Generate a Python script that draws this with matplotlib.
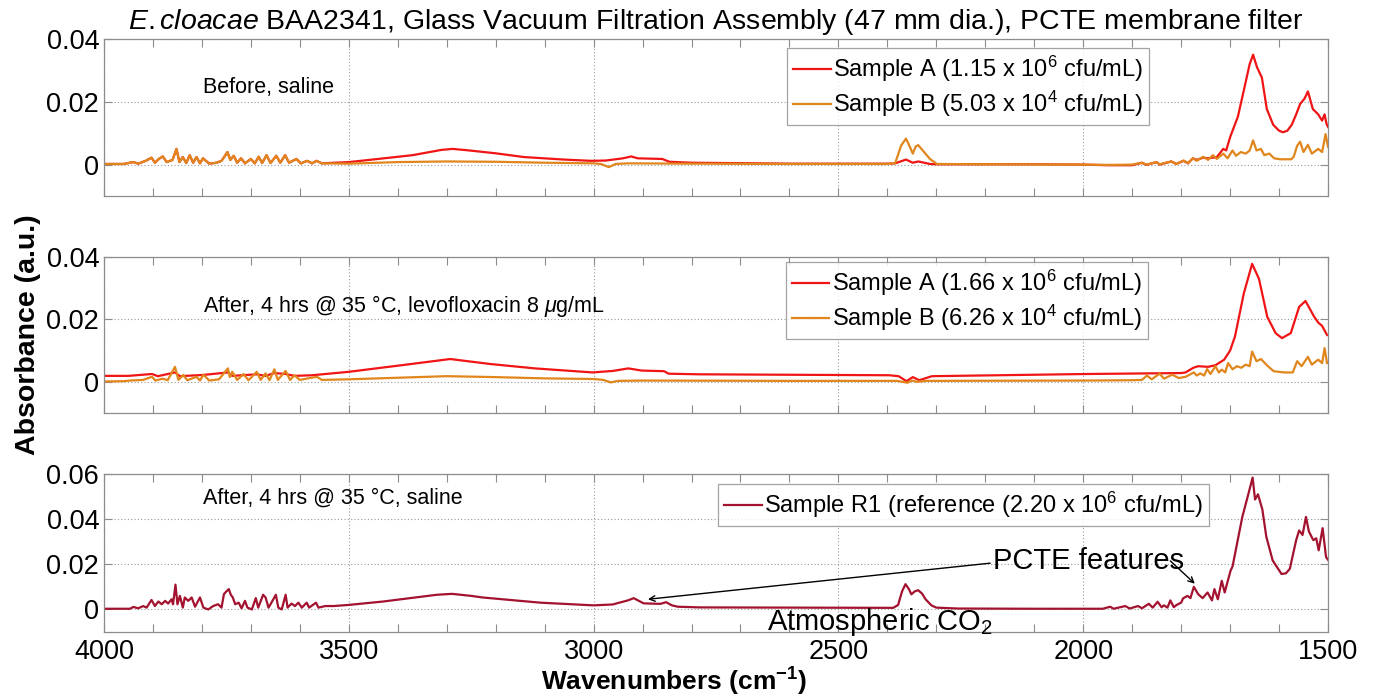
import matplotlib
matplotlib.use("Agg")
import matplotlib.pyplot as plt
from matplotlib.ticker import MultipleLocator, FuncFormatter

plt.rcParams['font.family'] = ['Liberation Sans', 'DejaVu Sans']
plt.rcParams['mathtext.fontset'] = 'custom'
plt.rcParams['mathtext.rm'] = 'Liberation Sans'
plt.rcParams['mathtext.it'] = 'Liberation Sans:italic'
plt.rcParams['mathtext.bf'] = 'Liberation Sans:bold'

# ---------------- data (wavenumber, absorbance) ----------------
noise1_wn = [4000, 3960, 3940, 3930, 3915, 3903, 3896, 3888, 3880, 3872, 3860, 3852, 3846, 3839, 3832,
             3825, 3818, 3811, 3804, 3798, 3785, 3770, 3760, 3752, 3748, 3742, 3735, 3728, 3720, 3712,
             3700, 3692, 3684, 3677, 3668, 3660, 3648, 3640, 3630, 3622, 3607, 3598, 3585, 3575, 3566, 3555]
noise1_ab = [0.0002, 0.0002, 0.0008, 0.0003, 0.0012, 0.0022, 0.0006, 0.0018, 0.0026, 0.0008, 0.0015,
             0.0050, 0.0008, 0.0024, 0.0005, 0.0030, 0.0006, 0.0024, 0.0004, 0.0020, 0.0003, 0.0006,
             0.0012, 0.0030, 0.0040, 0.0015, 0.0028, 0.0006, 0.0020, 0.0004, 0.0018, 0.0004, 0.0025,
             0.0005, 0.0030, 0.0005, 0.0028, 0.0006, 0.0030, 0.0006, 0.0018, 0.0004, 0.0012, 0.0004,
             0.0012, 0.0004]

p1_red_wn = noise1_wn + [3500, 3440, 3370, 3310, 3288, 3260, 3200, 3142, 3060, 3005, 2975, 2940, 2923,
             2910, 2885, 2860, 2845, 2800, 2600, 2400, 2384, 2362, 2348, 2337, 2313, 2299, 2100, 2000,
             1950, 1900, 1880, 1871, 1850, 1844, 1820, 1810, 1795, 1786, 1776, 1768, 1755, 1745, 1727,
             1714, 1708, 1700, 1684, 1670, 1660, 1653, 1645, 1635, 1625, 1612, 1600, 1592, 1583, 1574,
             1565, 1557, 1548, 1541, 1531, 1520, 1512, 1507, 1503, 1500]
p1_red_ab = noise1_ab + [0.0008, 0.0018, 0.0030, 0.0047, 0.0050, 0.0046, 0.0036, 0.0024, 0.0016,
             0.0012, 0.0013, 0.0020, 0.0026, 0.0020, 0.0019, 0.0018, 0.0009, 0.0006, 0.0003, 0.0003,
             0.0004, 0.0016, 0.0006, 0.0010, 0.0002, 0.0001, 0.0001, 0.0000, -0.0002, -0.0002, 0.0006,
             -0.0001, 0.0008, 0.0000, 0.0010, 0.0002, 0.0012, 0.0004, 0.0020, 0.0015, 0.0022, 0.0020,
             0.0024, 0.0050, 0.0045, 0.0087, 0.0153, 0.0250, 0.0320, 0.0350, 0.0310, 0.0277, 0.0177,
             0.0127, 0.0108, 0.0103, 0.0108, 0.0127, 0.0160, 0.0193, 0.0210, 0.0233, 0.0177, 0.0160,
             0.0140, 0.0160, 0.0130, 0.0120]

p1_orange_wn = noise1_wn + [3500, 3400, 3300, 3200, 3100, 3000, 2985, 2969, 2955, 2930, 2800, 2600,
             2400, 2384, 2372, 2362, 2355, 2348, 2342, 2337, 2325, 2313, 2299, 2200, 2000, 1950, 1900,
             1880, 1871, 1850, 1844, 1820, 1810, 1795, 1786, 1776, 1768, 1755, 1745, 1735, 1727, 1714,
             1705, 1695, 1688, 1678, 1668, 1660, 1653, 1646, 1637, 1630, 1620, 1610, 1598, 1575, 1570,
             1563, 1557, 1550, 1541, 1533, 1520, 1512, 1505, 1500]
p1_orange_ab = noise1_ab + [0.0003, 0.0008, 0.0010, 0.0009, 0.0006, 0.0004, 0.0002, -0.0008, 0.0002,
             0.0004, 0.0003, 0.0002, 0.0002, 0.0005, 0.0060, 0.0083, 0.0060, 0.0035, 0.0058, 0.0062,
             0.0040, 0.0018, 0.0002, 0.0001, 0.0000, -0.0001, 0.0000, 0.0006, 0.0000, 0.0008, 0.0001,
             0.0010, 0.0002, 0.0013, 0.0005, 0.0020, 0.0012, 0.0025, 0.0015, 0.0030, 0.0018, 0.0035,
             0.0020, 0.0045, 0.0028, 0.0040, 0.0035, 0.0045, 0.0077, 0.0045, 0.0050, 0.0030, 0.0035,
             0.0020, 0.0017, 0.0017, 0.0025, 0.0060, 0.0073, 0.0040, 0.0063, 0.0035, 0.0050, 0.0040,
             0.0097, 0.0057]

p2_red_wn = [4000, 3950, 3902, 3890, 3855, 3845, 3797, 3747, 3738, 3688, 3670, 3652, 3629, 3611, 3575,
             3500, 3393, 3293, 3211, 3120, 3002, 2960, 2929, 2902, 2856, 2847, 2785, 2396, 2377, 2361,
             2348, 2335, 2309, 1993, 1800, 1791, 1775, 1765, 1745, 1730, 1712, 1700, 1690, 1672, 1655,
             1641, 1624, 1607, 1594, 1576, 1559, 1546, 1528, 1520, 1512, 1502]
p2_red_ab = [0.0019, 0.0019, 0.0025, 0.0018, 0.0030, 0.0018, 0.0022, 0.0030, 0.0019, 0.0024, 0.0019,
             0.0028, 0.0025, 0.0019, 0.0021, 0.0032, 0.0053, 0.0073, 0.0057, 0.0043, 0.0030, 0.0035,
             0.0043, 0.0036, 0.0034, 0.0026, 0.0024, 0.0021, 0.0018, 0.0002, 0.0015, 0.0005, 0.0018,
             0.0025, 0.0028, 0.0030, 0.0045, 0.0050, 0.0048, 0.0053, 0.0071, 0.0100, 0.0145, 0.0283,
             0.0378, 0.0330, 0.0208, 0.0156, 0.0140, 0.0156, 0.0240, 0.0259, 0.0208, 0.0190, 0.0179,
             0.0150]

p2_orange_wn = [4000, 3960, 3947, 3920, 3902, 3895, 3880, 3870, 3855, 3848, 3838, 3830, 3811, 3804,
             3797, 3785, 3765, 3747, 3743, 3738, 3728, 3715, 3705, 3688, 3680, 3670, 3662, 3652, 3645,
             3629, 3620, 3611, 3600, 3580, 3565, 3555, 3500, 3400, 3300, 3200, 3100, 3000, 2980, 2965,
             2950, 2900, 2600, 2380, 2359, 2350, 2340, 2320, 2000, 1900, 1880, 1870, 1860, 1844, 1835,
             1818, 1805, 1791, 1774, 1768, 1761, 1753, 1747, 1740, 1730, 1723, 1717, 1710, 1704, 1695,
             1686, 1677, 1668, 1660, 1655, 1646, 1637, 1624, 1611, 1590, 1572, 1563, 1554, 1541, 1533,
             1520, 1512, 1507, 1502]
p2_orange_ab = [0.0001, 0.0002, 0.0004, 0.0006, 0.0016, 0.0004, 0.0010, 0.0005, 0.0048, 0.0006,
             0.0022, 0.0005, 0.0016, 0.0004, 0.0023, 0.0004, 0.0008, 0.0043, 0.0015, 0.0032, 0.0006,
             0.0025, 0.0005, 0.0032, 0.0006, 0.0027, 0.0005, 0.0040, 0.0006, 0.0035, 0.0006, 0.0021,
             0.0006, 0.0012, 0.0016, 0.0006, 0.0008, 0.0013, 0.0018, 0.0015, 0.0011, 0.0009, 0.0006,
             -0.0002, 0.0003, 0.0004, 0.0003, 0.0003, -0.0003, 0.0004, 0.0000, 0.0003, 0.0004, 0.0005,
             0.0006, 0.0020, 0.0008, 0.0026, 0.0010, 0.0023, 0.0012, 0.0016, 0.0030, 0.0020, 0.0027,
             0.0020, 0.0041, 0.0025, 0.0050, 0.0030, 0.0039, 0.0030, 0.0060, 0.0040, 0.0050, 0.0045,
             0.0055, 0.0050, 0.0097, 0.0066, 0.0073, 0.0052, 0.0034, 0.0030, 0.0030, 0.0066, 0.0050,
             0.0080, 0.0055, 0.0071, 0.0060, 0.0108, 0.0060]

p3_wn = [4000, 3947, 3940, 3930, 3920, 3913, 3903, 3896, 3889, 3882, 3875, 3869, 3862, 3859, 3854,
         3850, 3845, 3839, 3835, 3828, 3821, 3814, 3804, 3797, 3787, 3777, 3767, 3760, 3755, 3750, 3745,
         3741, 3737, 3732, 3725, 3719, 3712, 3707, 3698, 3690, 3685, 3675, 3670, 3664, 3658, 3649, 3644,
         3637, 3629, 3625, 3617, 3610, 3603, 3596, 3586, 3581, 3567, 3562, 3548, 3531, 3500, 3430, 3383,
         3320, 3289, 3250, 3227, 3109, 3000, 2961, 2930, 2918, 2898, 2870, 2863, 2852, 2840, 2828, 2783,
         2600, 2388, 2378, 2370, 2363, 2356, 2351, 2344, 2337, 2329, 2322, 2310, 2300, 2256, 2100, 1993,
         1960, 1945, 1938, 1914, 1905, 1888, 1880, 1866, 1858, 1848, 1840, 1835, 1828, 1822, 1815, 1809,
         1800, 1796, 1787, 1781, 1774, 1765, 1756, 1746, 1737, 1732, 1725, 1717, 1711, 1699, 1695, 1686,
         1675, 1664, 1654, 1649, 1643, 1634, 1626, 1613, 1595, 1586, 1578, 1565, 1559, 1552, 1545, 1539,
         1530, 1524, 1519, 1511, 1504, 1500]
p3_ab = [0.0003, 0.0003, 0.0011, 0.0005, 0.0015, 0.0008, 0.0042, 0.0015, 0.0035, 0.0023, 0.0038,
         0.0026, 0.0045, 0.0023, 0.0110, 0.0023, 0.0060, 0.0008, 0.0053, 0.0038, 0.0053, 0.0012, 0.0053,
         0.0008, 0.0000, 0.0015, 0.0023, 0.0008, 0.0068, 0.0080, 0.0090, 0.0065, 0.0053, 0.0023, 0.0030,
         0.0005, 0.0038, 0.0008, 0.0000, 0.0050, 0.0008, 0.0065, 0.0053, 0.0008, 0.0030, 0.0065, 0.0008,
         0.0000, 0.0065, 0.0008, 0.0026, 0.0015, 0.0030, 0.0008, 0.0030, 0.0008, 0.0030, 0.0008, 0.0015,
         0.0015, 0.0020, 0.0035, 0.0048, 0.0065, 0.0069, 0.0060, 0.0053, 0.0030, 0.0018, 0.0022, 0.0040,
         0.0050, 0.0027, 0.0025, 0.0025, 0.0032, 0.0018, 0.0012, 0.0009, 0.0008, 0.0007, 0.0020, 0.0080,
         0.0112, 0.0090, 0.0067, 0.0080, 0.0085, 0.0070, 0.0045, 0.0018, 0.0008, 0.0004, 0.0003, 0.0003,
         0.0003, 0.0012, 0.0003, 0.0015, 0.0004, 0.0015, 0.0005, 0.0025, 0.0008, 0.0034, 0.0010, 0.0018,
         0.0008, 0.0040, 0.0010, 0.0020, 0.0030, 0.0049, 0.0060, 0.0050, 0.0100, 0.0067, 0.0050, 0.0075,
         0.0040, 0.0090, 0.0045, 0.0127, 0.0075, 0.0172, 0.0190, 0.0290, 0.0410, 0.0500, 0.0584, 0.0487,
         0.0510, 0.0442, 0.0322, 0.0217, 0.0157, 0.0160, 0.0180, 0.0307, 0.0350, 0.0330, 0.0410, 0.0345,
         0.0307, 0.0315, 0.0262, 0.0360, 0.0232, 0.0220]

labels_p1 = ['Sample A (1.15 x 10$^6$ cfu/mL)', 'Sample B (5.03 x 10$^4$ cfu/mL)']
labels_p2 = ['Sample A (1.66 x 10$^6$ cfu/mL)', 'Sample B (6.26 x 10$^4$ cfu/mL)']
labels_p3 = ['Sample R1 (reference (2.20 x 10$^6$ cfu/mL)']
panel_notes = ['Before, saline', r'After, 4 hrs @ 35 °C, levofloxacin 8 $\mu$g/mL',
               'After, 4 hrs @ 35 °C, saline']

RED = '#f01414'
ORANGE = '#e0861c'
DARKRED = '#a3122e'
SPINE = '#8c8c8c'

fig = plt.figure(figsize=(13.74, 7.0), dpi=100)
W, H = 1374.0, 700.0
left, right = 104 / W, 1328 / W
boxes = [(39, 196), (257, 413), (474, 632)]
axes = []
for (t, b) in boxes:
    ax = fig.add_axes([left, 1 - b / H, right - left, (b - t) / H])
    axes.append(ax)

fmt = FuncFormatter(lambda v, p: '%g' % round(v, 4))
for i, ax in enumerate(axes):
    ax.set_xlim(4000, 1500)
    ax.xaxis.set_major_locator(MultipleLocator(500))
    ax.xaxis.set_minor_locator(MultipleLocator(100))
    ax.yaxis.set_major_locator(MultipleLocator(0.02))
    ax.yaxis.set_major_formatter(fmt)
    ax.grid(True, which='major', linestyle=(0, (1, 2)), color='#9a9a9a', linewidth=0.8)
    ax.tick_params(which='both', direction='in', top=True, right=True, length=6,
                   color=SPINE, labelsize=19.5, width=0.8)
    for s in ax.spines.values():
        s.set_color(SPINE)
        s.set_linewidth(0.9)
    if i < 2:
        ax.tick_params(labelbottom=False)
        ax.set_ylim(-0.01, 0.04)
    else:
        ax.set_ylim(-0.01, 0.06)
        ax.tick_params(axis='x', pad=5)

ax1, ax2, ax3 = axes
ax1.plot(p1_red_wn, p1_red_ab, color=RED, lw=1.6, label=labels_p1[0])
ax1.plot(p1_orange_wn, p1_orange_ab, color=ORANGE, lw=1.6, label=labels_p1[1])
ax2.plot(p2_red_wn, p2_red_ab, color=RED, lw=1.6, label=labels_p2[0])
ax2.plot(p2_orange_wn, p2_orange_ab, color=ORANGE, lw=1.6, label=labels_p2[1])
ax3.plot(p3_wn, p3_ab, color=DARKRED, lw=1.6, label=labels_p3[0])

leg_kw = dict(loc='upper left', fontsize=17, frameon=True, fancybox=False, handlelength=1.6,
              handletextpad=0.1, labelspacing=0.2, borderpad=0.25, borderaxespad=0)
for ax, anchor in [(ax1, (0.558, 0.943)), (ax2, (0.557, 0.968)), (ax3, (0.502, 0.937))]:
    lg = ax.legend(bbox_to_anchor=anchor, **leg_kw)
    lg.get_frame().set_edgecolor(SPINE)
    lg.get_frame().set_linewidth(0.9)

ax1.text(3798, 0.0247, panel_notes[0], fontsize=15.5, va='center', ha='left')
ax2.text(3798, 0.0244, panel_notes[1], fontsize=15.5, va='center', ha='left')
ax3.text(3798, 0.0495, panel_notes[2], fontsize=15.5, va='center', ha='left')

ax3.annotate('', xy=(2889, 0.0045), xytext=(2190, 0.0205),
             arrowprops=dict(arrowstyle='->', color='black', lw=1.0, shrinkA=0, shrinkB=0))
ax3.annotate('', xy=(1772, 0.0114), xytext=(1822, 0.0215),
             arrowprops=dict(arrowstyle='->', color='black', lw=1.0, shrinkA=0, shrinkB=0))
ax3.text(2185, 0.0215, 'PCTE features', fontsize=21, va='center', ha='left')
ax3.text(2646, -0.0055, 'Atmospheric CO$_2$', fontsize=21, va='center', ha='left', clip_on=False)

fig.suptitle(r'$\mathit{E.cloacae}$ BAA2341, Glass Vacuum Filtration Assembly (47 mm dia.), PCTE membrane filter',
             x=(left + right) / 2, y=1 - 22 / H, va='center', fontsize=20.5)
fig.text(28 / W, 1 - 335 / H, 'Absorbance (a.u.)', rotation=90, fontsize=20.5, fontweight='bold',
         va='center', ha='center')
fig.text(674 / W, 2 / H, r'Wavenumbers (cm$^{\mathbf{-1}}$)', fontsize=19, fontweight='bold',
         va='bottom', ha='center')

fig.savefig('out.png', dpi=100)
